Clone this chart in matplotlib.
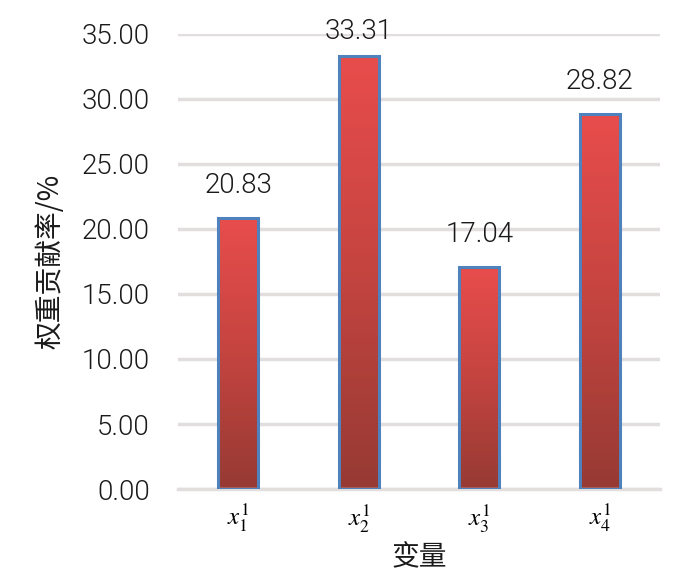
import matplotlib
matplotlib.use("Agg")
import matplotlib.pyplot as plt
import numpy as np
from matplotlib.colors import LinearSegmentedColormap

categories = [r"$x_1^1$", r"$x_2^1$", r"$x_3^1$", r"$x_4^1$"]
values = [20.83, 33.31, 17.04, 28.82]
yticks = [0, 5, 10, 15, 20, 25, 30, 35]

plt.rcParams['font.family'] = ['Noto Sans CJK SC', 'DejaVu Sans']
plt.rcParams['mathtext.fontset'] = 'stix'

fig = plt.figure(figsize=(7, 5.79), dpi=100)
ax = fig.add_axes([0.254, 0.1554, 0.689, 0.786])

x = np.arange(len(values))
bars = ax.bar(x, values, width=0.33, facecolor='none', edgecolor='#4f81bd',
              linewidth=2.2, zorder=3)

cmap = LinearSegmentedColormap.from_list('g', ['#963a33', '#c44440', '#e84d4c'])
grad = np.linspace(0, 1, 256).reshape(-1, 1)
for b in bars:
    x0, y0 = b.get_x(), b.get_y()
    w, h = b.get_width(), b.get_height()
    ax.imshow(grad, cmap=cmap, origin='lower', aspect='auto',
              extent=[x0, x0 + w, y0, y0 + h], zorder=2)

numfont = ['Roboto', 'DejaVu Sans']
for xi, v in zip(x, values):
    ax.text(xi, min(v + 2.5, 35.15), f"{v:.2f}", ha='center', va='center',
            fontsize=20, color='#1a1a1a', family=numfont, fontweight=300,
            clip_on=False)

ax.set_xlim(-0.5, len(values) - 0.5)
ax.set_ylim(0, 35)
ax.set_yticks(yticks)
ax.set_yticklabels([f"{t:.2f}" for t in yticks], fontsize=20, color='#1a1a1a',
                   family=numfont, fontweight=300)
ax.set_xticks(x)
ax.set_xticklabels(categories, fontsize=18)
ax.tick_params(axis='both', length=0, pad=9)
ax.tick_params(axis='y', pad=20)

ax.grid(axis='y', color='#e3dede', linewidth=2.5, zorder=0)
ax.set_axisbelow(True)
for s in ['top', 'right', 'left']:
    ax.spines[s].set_visible(False)
ax.spines['bottom'].set_color('#e3dede')
ax.spines['bottom'].set_linewidth(2.5)

ax.set_ylabel("权重贡献率/%", fontsize=20, color='#1a1a1a', labelpad=12)
ax.set_xlabel("变量", fontsize=20, color='#1a1a1a', labelpad=6)

fig.savefig("out.png", dpi=100)
